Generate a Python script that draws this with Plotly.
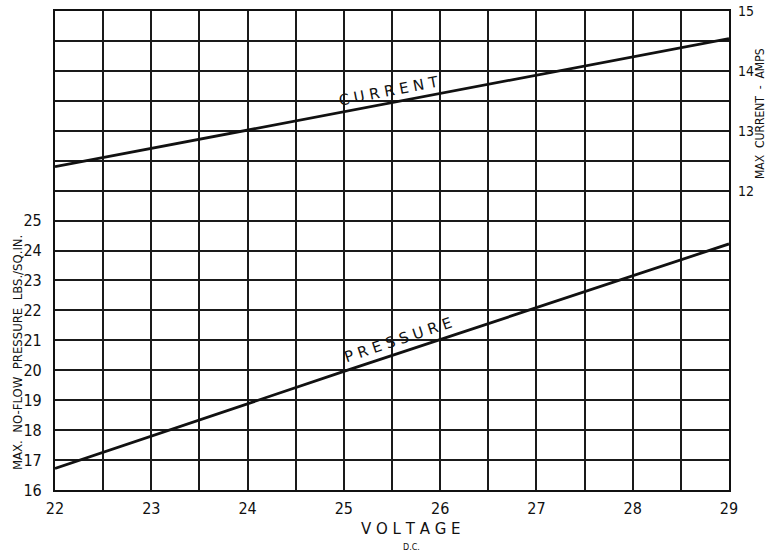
import plotly.graph_objects as go

# Data
voltage = [22, 25, 29]
pressure = [16.72, 19.96, 24.22]   # lbs/sq.in.
current = [12.40, 13.32, 14.54]    # amps

x_ticks = [22 + 0.5 * i for i in range(15)]
x_text = [str(int(v)) if v == int(v) else "" for v in x_ticks]
p_ticks = list(range(16, 33))
p_text = [str(v) if v <= 25 else "" for v in p_ticks]
c_ticks = [12, 13, 14, 15]
c_text = ["12", "13", "14", "15"]

W, H = 767, 554
L, R, T, B = 55, 38, 11, 64
pw, ph = W - L - R, H - T - B

def px(xp):
    return (xp - L) / pw

def py(yp):
    return (H - B - yp) / ph

FONT = "DejaVu Sans"
TICKFONT = "DejaVu Sans Condensed, DejaVu Sans"
INK = "#111111"

fig = go.Figure()
fig.add_trace(go.Scatter(x=voltage, y=pressure, mode="lines",
                         line=dict(color=INK, width=2.8), yaxis="y", showlegend=False))
fig.add_trace(go.Scatter(x=voltage, y=current, mode="lines",
                         line=dict(color=INK, width=2.8), yaxis="y2", showlegend=False))

fig.update_layout(
    width=W, height=H,
    margin=dict(l=L, r=R, t=T, b=B, autoexpand=False),
    paper_bgcolor="white", plot_bgcolor="white",
    font=dict(family=FONT, color=INK),
    xaxis=dict(range=[22, 29], tickvals=x_ticks, ticktext=x_text, automargin=False,
               showgrid=True, gridcolor="#1a1a1a", gridwidth=1.5,
               showline=True, linecolor=INK, linewidth=2.2, mirror=True,
               zeroline=False, ticks="", tickfont=dict(size=16, family=TICKFONT),
               ticklabelstandoff=3),
    yaxis=dict(range=[16, 32], tickvals=p_ticks, ticktext=p_text, automargin=False,
               showgrid=True, gridcolor="#1a1a1a", gridwidth=1.5,
               showline=True, linecolor=INK, linewidth=2.2, mirror=True,
               zeroline=False, ticks="", tickfont=dict(size=16, family=TICKFONT),
               ticklabelstandoff=8),
    yaxis2=dict(range=[7, 15], tickvals=c_ticks, ticktext=c_text, automargin=False,
                overlaying="y", side="right", showgrid=False, zeroline=False,
                showline=False, ticks="", tickfont=dict(size=14, family=TICKFONT),
                ticklabelstandoff=8),
)

ann = [
    dict(text="C U R R E N T", x=px(389), y=py(91), textangle=-11, font=dict(size=15)),
    dict(text="P R E S S U R E", x=px(398), y=py(340), textangle=-18.5, font=dict(size=15)),
    dict(text="MAX.  NO-FLOW  PRESSURE  LBS./SQ.IN.", x=px(17), y=py(353), textangle=-90,
         font=dict(size=13, family=TICKFONT)),
    dict(text="MAX  CURRENT  -  AMPS", x=px(760), y=py(114), textangle=-90,
         font=dict(size=12, family=TICKFONT)),
    dict(text="V O L T A G E", x=px(411), y=py(529), font=dict(size=15)),
    dict(text="D.C.", x=px(411), y=py(547), font=dict(size=8)),
]
for a in ann:
    a.update(xref="paper", yref="paper", showarrow=False, xanchor="center", yanchor="middle")
    a["font"].update(color=INK)
    a["font"].setdefault("family", FONT)
    fig.add_annotation(**a)

fig.write_html("out.html", config={"displayModeBar": False},
               post_script="document.body.style.margin='0';")
